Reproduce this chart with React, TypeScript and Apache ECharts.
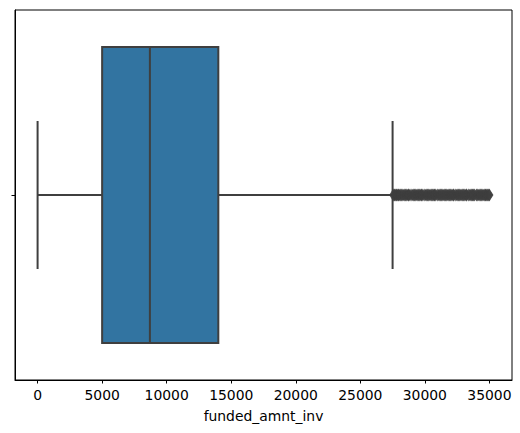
import React, { useEffect, useRef } from "react";
import * as echarts from "echarts";

const categories = [""];
// [min, Q1, median, Q3, max]
const boxStats = [[0, 5000, 8700, 14000, 27500]];
const outliers = [
  27550, 27650, 27700, 27800, 27850, 27950, 28000, 28100, 28200, 28300, 28400,
  28500, 28600, 28700, 28750, 28850, 29000, 29100, 29200, 29300, 29400, 29500,
  29600, 29700, 29750, 29850, 30000, 30100, 30200, 30300, 30400, 30500, 30600,
  30700, 30750, 30850, 31000, 31100, 31200, 31300, 31400, 31500, 31600, 31700,
  31800, 31900, 32000, 32100, 32200, 32250, 32400, 32500, 32600, 32700, 32800,
  32900, 33000, 33100, 33200, 33250, 33400, 33500, 33600, 33700, 33750, 33850,
  34000, 34100, 34200, 34300, 34400, 34500, 34600, 34700, 34750, 34850, 34950,
  35000,
];
const xTicks = [0, 5000, 10000, 15000, 20000, 25000, 30000, 35000];
const xName = "funded_amnt_inv";

const FONT = "DejaVu Sans";
const BOX_FILL = "#3274a1";
const EDGE = "#3f3f3f";

export default function App() {
  const ref = useRef<HTMLDivElement>(null);
  useEffect(() => {
    const chart = echarts.init(ref.current!, null, { renderer: "svg" });
    chart.setOption({
      animation: false,
      backgroundColor: "#ffffff",
      grid: {
        left: 15,
        right: 8,
        top: 10,
        bottom: 53,
        show: true,
        borderColor: "#000",
        borderWidth: 1,
        containLabel: false,
      },
      xAxis: {
        type: "value",
        min: -1750,
        max: 36750,
        splitLine: { show: false },
        axisLine: { show: true, onZero: false, lineStyle: { color: "#000", width: 1 } },
        axisTick: {
          show: true,
          customValues: xTicks,
          length: 3.5,
          lineStyle: { color: "#000", width: 1 },
        },
        axisLabel: {
          customValues: xTicks,
          formatter: (v: number) => String(v),
          color: "#000",
          fontFamily: FONT,
          fontSize: 13.9,
          margin: 7.5,
        },
        name: xName,
        nameLocation: "middle",
        nameGap: 28.5,
        nameTextStyle: { color: "#000", fontFamily: FONT, fontSize: 13.9 },
      },
      yAxis: {
        type: "category",
        data: categories,
        axisLine: { show: true, onZero: false, lineStyle: { color: "#000", width: 1 } },
        axisTick: {
          show: true,
          alignWithLabel: true,
          length: 3.5,
          lineStyle: { color: "#000", width: 1 },
        },
        axisLabel: { show: false },
        splitLine: { show: false },
      },
      series: [
        {
          type: "custom",
          data: boxStats.map((s, i) => [i, ...s]),
          encode: { x: [1, 2, 3, 4, 5], y: 0 },
          renderItem: (params: any, api: any) => {
            const cat = api.value(0);
            const mn = api.value(1);
            const q1 = api.value(2);
            const med = api.value(3);
            const q3 = api.value(4);
            const mx = api.value(5);
            const band = api.size([0, 1])[1];
            const h = band * 0.8;
            const cap = h / 2;
            const pMin = api.coord([mn, cat]);
            const pQ1 = api.coord([q1, cat]);
            const pMed = api.coord([med, cat]);
            const pQ3 = api.coord([q3, cat]);
            const pMax = api.coord([mx, cat]);
            const cy = pQ1[1];
            const ls = { stroke: EDGE, lineWidth: 2, fill: null };
            return {
              type: "group",
              children: [
                {
                  type: "line",
                  shape: { x1: pMin[0], y1: cy, x2: pQ1[0], y2: cy },
                  style: ls,
                },
                {
                  type: "line",
                  shape: { x1: pQ3[0], y1: cy, x2: pMax[0], y2: cy },
                  style: ls,
                },
                {
                  type: "line",
                  shape: { x1: pMin[0], y1: cy - cap / 2, x2: pMin[0], y2: cy + cap / 2 },
                  style: ls,
                },
                {
                  type: "line",
                  shape: { x1: pMax[0], y1: cy - cap / 2, x2: pMax[0], y2: cy + cap / 2 },
                  style: ls,
                },
                {
                  type: "rect",
                  shape: { x: pQ1[0], y: cy - h / 2, width: pQ3[0] - pQ1[0], height: h },
                  style: { fill: BOX_FILL, stroke: EDGE, lineWidth: 2 },
                },
                {
                  type: "line",
                  shape: { x1: pMed[0], y1: cy - h / 2, x2: pMed[0], y2: cy + h / 2 },
                  style: ls,
                },
              ],
            };
          },
          z: 2,
        },
        {
          type: "scatter",
          data: outliers.map((v) => [v, 0]),
          symbol: "diamond",
          symbolSize: [7, 11],
          itemStyle: { color: EDGE, borderColor: EDGE, borderWidth: 1 },
          z: 3,
        },
      ],
    });
    return () => chart.dispose();
  }, []);
  return (
    <div
      ref={ref}
      style={{ position: "fixed", left: 0, top: 0, width: 520, height: 433 }}
    />
  );
}
